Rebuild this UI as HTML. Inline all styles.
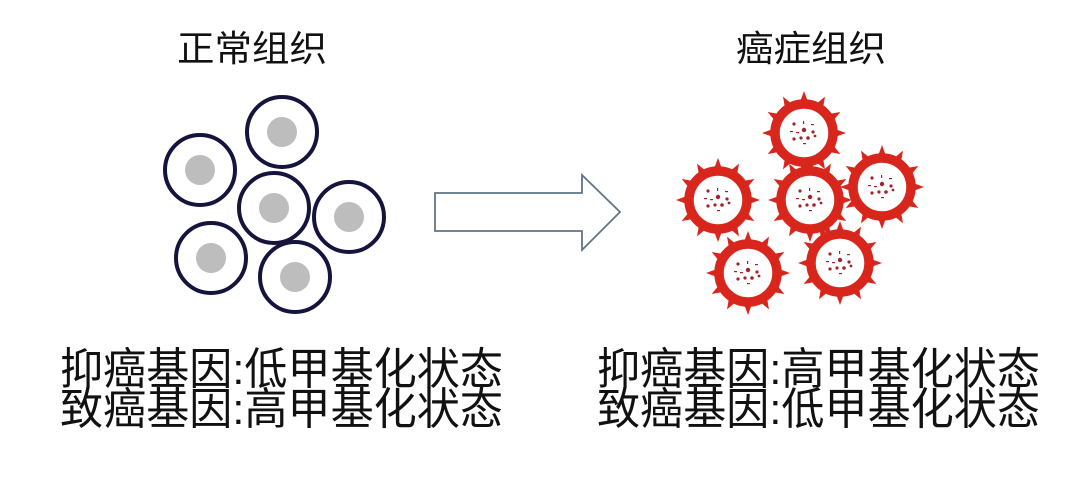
<!DOCTYPE html>
<html><head><meta charset="utf-8"><style>
html,body{margin:0;padding:0;background:#fff;}
svg{display:block;}
text{font-family:"Liberation Sans","Noto Sans CJK SC",sans-serif;fill:#111;}
</style></head><body>
<svg width="1080" height="482" viewBox="0 0 1080 482" xmlns="http://www.w3.org/2000/svg">
<defs>
  <g id="spike"><polygon points="-4,-31 4,-31 0,-42" fill="#d9261c"/></g>
  <g id="cc">
    <use href="#spike"/>
    <use href="#spike" transform="rotate(30)"/>
    <use href="#spike" transform="rotate(60)"/>
    <use href="#spike" transform="rotate(90)"/>
    <use href="#spike" transform="rotate(120)"/>
    <use href="#spike" transform="rotate(150)"/>
    <use href="#spike" transform="rotate(180)"/>
    <use href="#spike" transform="rotate(210)"/>
    <use href="#spike" transform="rotate(240)"/>
    <use href="#spike" transform="rotate(270)"/>
    <use href="#spike" transform="rotate(300)"/>
    <use href="#spike" transform="rotate(330)"/>
    <circle r="29" fill="#fff" stroke="#d9261c" stroke-width="9.5"/>
    <g fill="#a3232a">
      <circle cx="-10" cy="-9" r="1.6"/><rect x="-1" y="-12" width="1.2" height="3"/><rect x="7" y="-9" width="3" height="1.2"/>
      <rect x="-14" y="-2" width="3" height="1.2"/><rect x="-8" y="-1" width="3" height="1.2"/>
      <circle cx="0" cy="-3" r="2.2"/><circle cx="9" cy="-1" r="1.6"/>
      <circle cx="-10" cy="6" r="1.6"/><circle cx="-3" cy="5" r="1.6"/><circle cx="4" cy="5" r="1.8"/><circle cx="11" cy="3" r="1.4"/>
      <rect x="-1" y="10" width="3" height="1.2"/>
    </g>
  </g>
  <g id="nc">
    <circle r="35" fill="#fff" stroke="#14143c" stroke-width="4"/>
    <circle r="15" fill="#bdbdbd"/>
  </g>
</defs>

<text x="252" y="61" font-size="36" text-anchor="middle" textLength="150" lengthAdjust="spacingAndGlyphs">正常组织</text>
<text x="811" y="61" font-size="36" text-anchor="middle" textLength="150" lengthAdjust="spacingAndGlyphs">癌症组织</text>

<use href="#nc" x="282" y="132"/>
<use href="#nc" x="200" y="170"/>
<use href="#nc" x="349" y="217"/>
<use href="#nc" x="211" y="258"/>
<use href="#nc" x="295" y="277"/>
<use href="#nc" x="274" y="208"/>

<polygon points="435,193 582,193 582,175 620,212 582,250 582,231 435,231" fill="#fff" stroke="#5f7587" stroke-width="1.8"/>

<use href="#cc" x="804" y="133"/>
<use href="#cc" x="718" y="200"/>
<use href="#cc" x="882" y="187"/>
<use href="#cc" x="810" y="200"/>
<use href="#cc" x="748" y="273"/>
<use href="#cc" x="840" y="263"/>

<text x="60" y="384" font-size="44" textLength="443" lengthAdjust="spacingAndGlyphs">抑癌基因:低甲基化状态</text>
<text x="60" y="424" font-size="44" textLength="443" lengthAdjust="spacingAndGlyphs">致癌基因:高甲基化状态</text>
<text x="597" y="384" font-size="44" textLength="443" lengthAdjust="spacingAndGlyphs">抑癌基因:高甲基化状态</text>
<text x="597" y="424" font-size="44" textLength="443" lengthAdjust="spacingAndGlyphs">致癌基因:低甲基化状态</text>
</svg>
</body></html>
